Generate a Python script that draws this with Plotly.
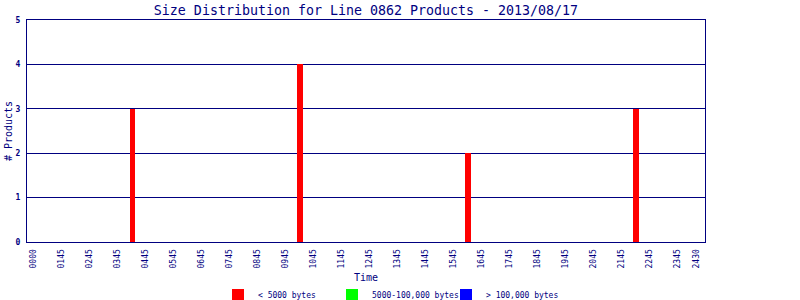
import plotly.graph_objects as go

# Data
tick_labels = ["0000", "0145", "0245", "0345", "0445", "0545", "0645", "0745", "0845",
               "0945", "1045", "1145", "1245", "1345", "1445", "1545", "1645", "1745",
               "1845", "1945", "2045", "2145", "2245", "2345", "2430"]
tick_positions = list(range(24)) + [23.71]
bar_times = [3.54, 9.54, 15.54, 21.54]
small_counts = [3, 4, 2, 3]        # < 5000 bytes
medium_counts = [0, 0, 0, 0]       # 5000-100,000 bytes
large_counts = [0, 0, 0, 0]        # > 100,000 bytes

NAVY = "#000080"
FONT = "DejaVu Sans Mono"

fig = go.Figure()
fig.add_bar(x=bar_times, y=small_counts, name="< 5000 bytes", width=0.21,
            marker=dict(color="#FF0000", line=dict(width=0)))
fig.add_bar(x=bar_times, y=medium_counts, name="5000-100,000 bytes", width=0.21,
            marker=dict(color="#00FF00", line=dict(width=0)))
fig.add_bar(x=bar_times, y=large_counts, name="> 100,000 bytes", width=0.21,
            marker=dict(color="#0000FF", line=dict(width=0)))

fig.update_layout(
    width=800, height=300,
    barmode="stack",
    paper_bgcolor="white", plot_bgcolor="white",
    margin=dict(l=27, r=95, t=20, b=58, pad=0, autoexpand=False),
    font=dict(family=FONT, color=NAVY, size=8),
    title=dict(text="Size Distribution for Line 0862 Products - 2013/08/17",
               x=(27 + 678 / 2) / 800, xanchor="center", y=1 - 10 / 300, yanchor="middle",
               font=dict(family=FONT, size=13.3, color=NAVY)),
    xaxis=dict(range=[-0.23, 24.0], tickmode="array", tickvals=tick_positions,
               ticktext=tick_labels, tickangle=-90, showgrid=False,
               showline=True, linecolor=NAVY, linewidth=1, mirror=True,
               ticks="outside", ticklen=3, tickcolor="white", zeroline=False,
               automargin=False,
               tickfont=dict(family=FONT, size=8, color=NAVY),
               title=dict(text="Time", font=dict(family=FONT, size=10, color=NAVY), standoff=6)),
    yaxis=dict(range=[0, 5], tickmode="array", tickvals=[0, 1, 2, 3, 4, 5],
               ticktext=["<b>0</b>", "<b>1</b>", "<b>2</b>", "<b>3</b>", "<b>4</b>", "<b>5</b>"],
               showgrid=True, gridcolor=NAVY, gridwidth=1,
               showline=True, linecolor=NAVY, linewidth=1, mirror=True,
               ticks="outside", ticklen=4, tickcolor="white", zeroline=False,
               automargin=False,
               tickfont=dict(family=FONT, size=8, color=NAVY),
               title=dict(text="# Products", font=dict(family=FONT, size=10, color=NAVY), standoff=1)),
    showlegend=True,
    legend=dict(orientation="h", x=(218 - 27) / 678, xanchor="left",
                y=-(295 - 242) / 222, yanchor="middle",
                font=dict(family=FONT, size=8, color=NAVY), traceorder="normal",
                itemwidth=30, entrywidth=69, entrywidthmode="pixels",
                bgcolor="rgba(0,0,0,0)", tracegroupgap=0),
)

fig.write_html("out.html")
